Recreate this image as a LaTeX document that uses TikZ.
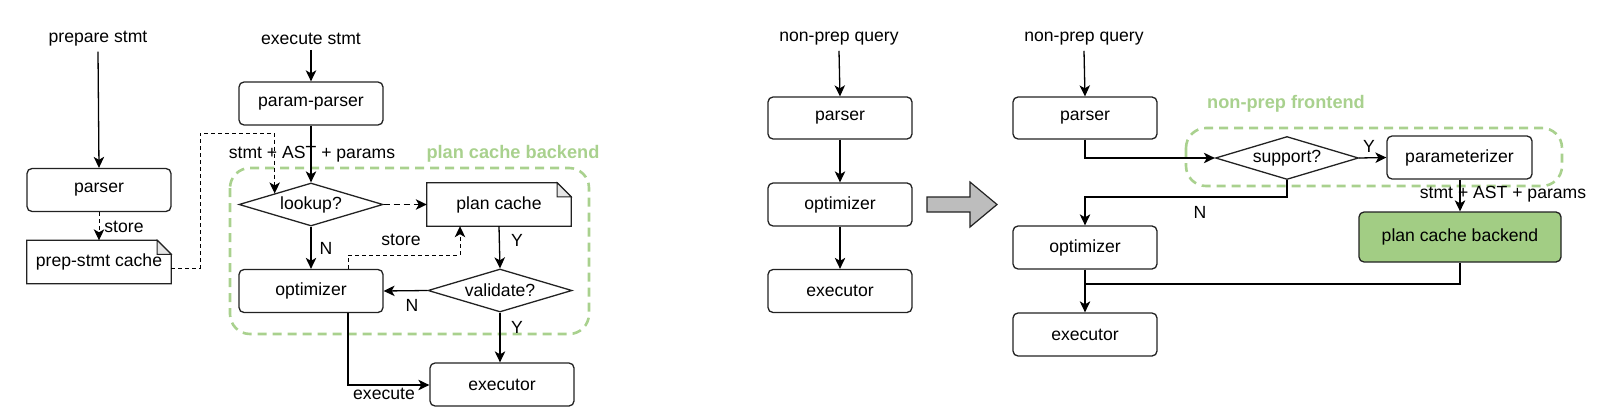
\documentclass[tikz,border=0pt]{standalone}
\usepackage{fontspec}
\setmainfont{Liberation Sans}
\usetikzlibrary{arrows.meta,shapes.geometric,calc}
\definecolor{grn}{HTML}{A9D18E}
\definecolor{grnfill}{HTML}{A2CD84}
\definecolor{ln}{HTML}{222222}
\definecolor{foldc}{HTML}{E6E6E6}
\definecolor{bigarrow}{HTML}{BDBDBD}
\tikzset{
  every node/.style={font=\fontsize{17.6}{20}\selectfont, text=black},
  box/.style={draw=ln, line width=1.3pt, rounded corners=5pt, minimum width=144pt, minimum height=43pt, inner sep=0pt, fill=white},
  notebox/.style={minimum width=144pt, minimum height=43pt, inner sep=0pt},
  dia/.style={draw=ln, line width=1.3pt, diamond, aspect=3.35, minimum width=144pt, minimum height=43pt, inner sep=0pt},
  lbl/.style={inner sep=1pt},
  tip/.style={-{Stealth[length=11pt,width=10.5pt,inset=3pt]}},
  conn/.style={draw=black, line width=1.3pt, tip},
  plainconn/.style={draw=black, line width=1.3pt},
  dconn/.style={draw=black, line width=1pt, dash pattern=on 4pt off 3pt, tip},
  grpbox/.style={draw=grn, line width=2.6pt, dash pattern=on 9pt off 6pt, rounded corners=20pt},
  grplbl/.style={text=grn, font=\fontsize{18.2}{21}\selectfont\bfseries},
}
\begin{document}
\begin{tikzpicture}[x=1pt,y=-1pt]
\useasboundingbox (0,0) rectangle (1608,420);

% ================= Left diagram =================
\node[lbl] (prep) at (98,39) {prepare stmt};
\node[box] (parserL) at (99,190) {parser};
\node[notebox] (prepcache) at (99,262) {prep-stmt cache};
\draw[ln, line width=1.3pt, fill=white] (prepcache.south west) -- (prepcache.north west) -- ([xshift=-14pt]prepcache.north east) -- ([yshift=-14pt]prepcache.north east) -- (prepcache.south east) -- cycle;
\draw[ln, line width=1pt, fill=foldc] ([xshift=-14pt]prepcache.north east) -- ([yshift=-14pt]prepcache.north east) -- ([xshift=-14pt,yshift=-14pt]prepcache.north east) -- cycle;
\node[notebox] at (prepcache) {prep-stmt cache};

\node[lbl] (exec) at (311,39) {execute stmt};
\node[box] (pparser) at (311,103.5) {param-parser};

\draw[grpbox] (230,168) rectangle (589,334);
\node[grplbl] (pcbl) at (513,154) {plan cache backend};

\node[dia] (lookup) at (311,204.5) {lookup?};
\node[notebox] (plancache) at (499,204.5) {plan cache};
\draw[ln, line width=1.3pt, fill=white] (plancache.south west) -- (plancache.north west) -- ([xshift=-14pt]plancache.north east) -- ([yshift=-14pt]plancache.north east) -- (plancache.south east) -- cycle;
\draw[ln, line width=1pt, fill=foldc] ([xshift=-14pt]plancache.north east) -- ([yshift=-14pt]plancache.north east) -- ([xshift=-14pt,yshift=-14pt]plancache.north east) -- cycle;
\node[notebox] at (plancache) {plan cache};

\node[box] (optL) at (311,291) {optimizer};
\node[dia] (validate) at (500,290.5) {validate?};
\node[box] (execL) at (502,384.5) {executor};

\coordinate (c1) at (200,133);
\coordinate (lk) at ($(lookup.north)!0.5!(lookup.west)$);
\coordinate (s1) at (348,255);
\coordinate (s2) at (460,255);
\coordinate (e1) at (348,385);

\draw[conn] (prep.south) ++(0,4) -- (parserL.north);
\draw[dconn] (parserL.south) -- (prepcache.north);
\node[lbl] at (124,227) {store};
\draw[dconn] ([yshift=-6pt]prepcache.east) -| (c1) -| (lk);

\draw[conn] (exec.south) ++(0,4) -- (pparser.north);
\draw[conn] (pparser.south) -- (lookup.north);
\node[lbl] at (312,154) {stmt + AST + params};

\draw[draw=black, line width=1.3pt, dash pattern=on 6pt off 4pt, tip] (lookup.east) -- (plancache.west);
\draw[conn] (lookup.south) -- (optL.north);
\node[lbl] at (326,248) {N};

\draw[dconn] (optL.north -| s1) -- (s1) -- (s2) -- (plancache.south -| s2);
\node[lbl] at (401,240) {store};

\draw[conn] (plancache.south) -- (validate.north);
\node[lbl] at (517,240) {Y};
\draw[conn] (validate.west) -- (optL.east);
\node[lbl] at (412,305) {N};
\draw[conn] (validate.south) -- (validate.south |- execL.north);
\node[lbl] at (517,327) {Y};
\draw[conn] (optL.south -| e1) -- (e1) -- (e1 -| execL.west);
\node[lbl] at (384,394) {execute};

% ================= Middle diagram =================
\node[lbl] (np1) at (839,39) {non-prep query};
\node[box, minimum height=42pt] (parserM) at (840,118) {parser};
\node[box] (optM) at (840,204.5) {optimizer};
\node[box] (execM) at (840,291) {executor};
\draw[conn] (np1.south) ++(0,4) -- (parserM.north);
\draw[conn] (parserM.south) -- (optM.north);
\draw[conn] (optM.south) -- (execM.north);

\draw[ln, line width=1.2pt, fill=bigarrow] (927,197) -- (970,197) -- (970,182) -- (997,204.5) -- (970,227) -- (970,212) -- (927,212) -- cycle;

% ================= Right diagram =================
\node[lbl] (np2) at (1084,39) {non-prep query};
\node[box, minimum height=42pt] (parserR) at (1085,118) {parser};

\draw[grpbox] (1186,128) rectangle (1562,186);
\node[grplbl] (npfl) at (1286,104) {non-prep frontend};

\node[dia, minimum width=143pt] (support) at (1287,158) {support?};
\node[box, minimum width=145pt] (param) at (1459.5,157.5) {parameterizer};
\node[box] (optR) at (1085,247.5) {optimizer};
\node[box] (execR) at (1085,334.5) {executor};
\node[box, fill=grnfill, minimum width=202pt, minimum height=50pt] (pcb) at (1460,237) {plan cache backend};

\coordinate (n1) at (1287,197);
\coordinate (j) at (1085,284);
\coordinate (j2) at (1460,284);

\draw[conn] (np2.south) ++(0,4) -- (parserR.north);
\draw[conn] (parserR.south) |- (support.west);
\draw[conn] (support.east) -- (param.west);
\node[lbl] at (1369,146) {Y};
\draw[conn] (support.south) -- (n1) -| (optR.north);
\node[lbl] at (1200,212) {N};
\draw[conn] (optR.south) -- (execR.north);
\draw[conn] (param.south -| pcb.north) -- (pcb.north);
\node[lbl] at (1503,194) {stmt + AST + params};
\draw[plainconn] (pcb.south) -- (j2) -- (j);
\end{tikzpicture}
\end{document}
